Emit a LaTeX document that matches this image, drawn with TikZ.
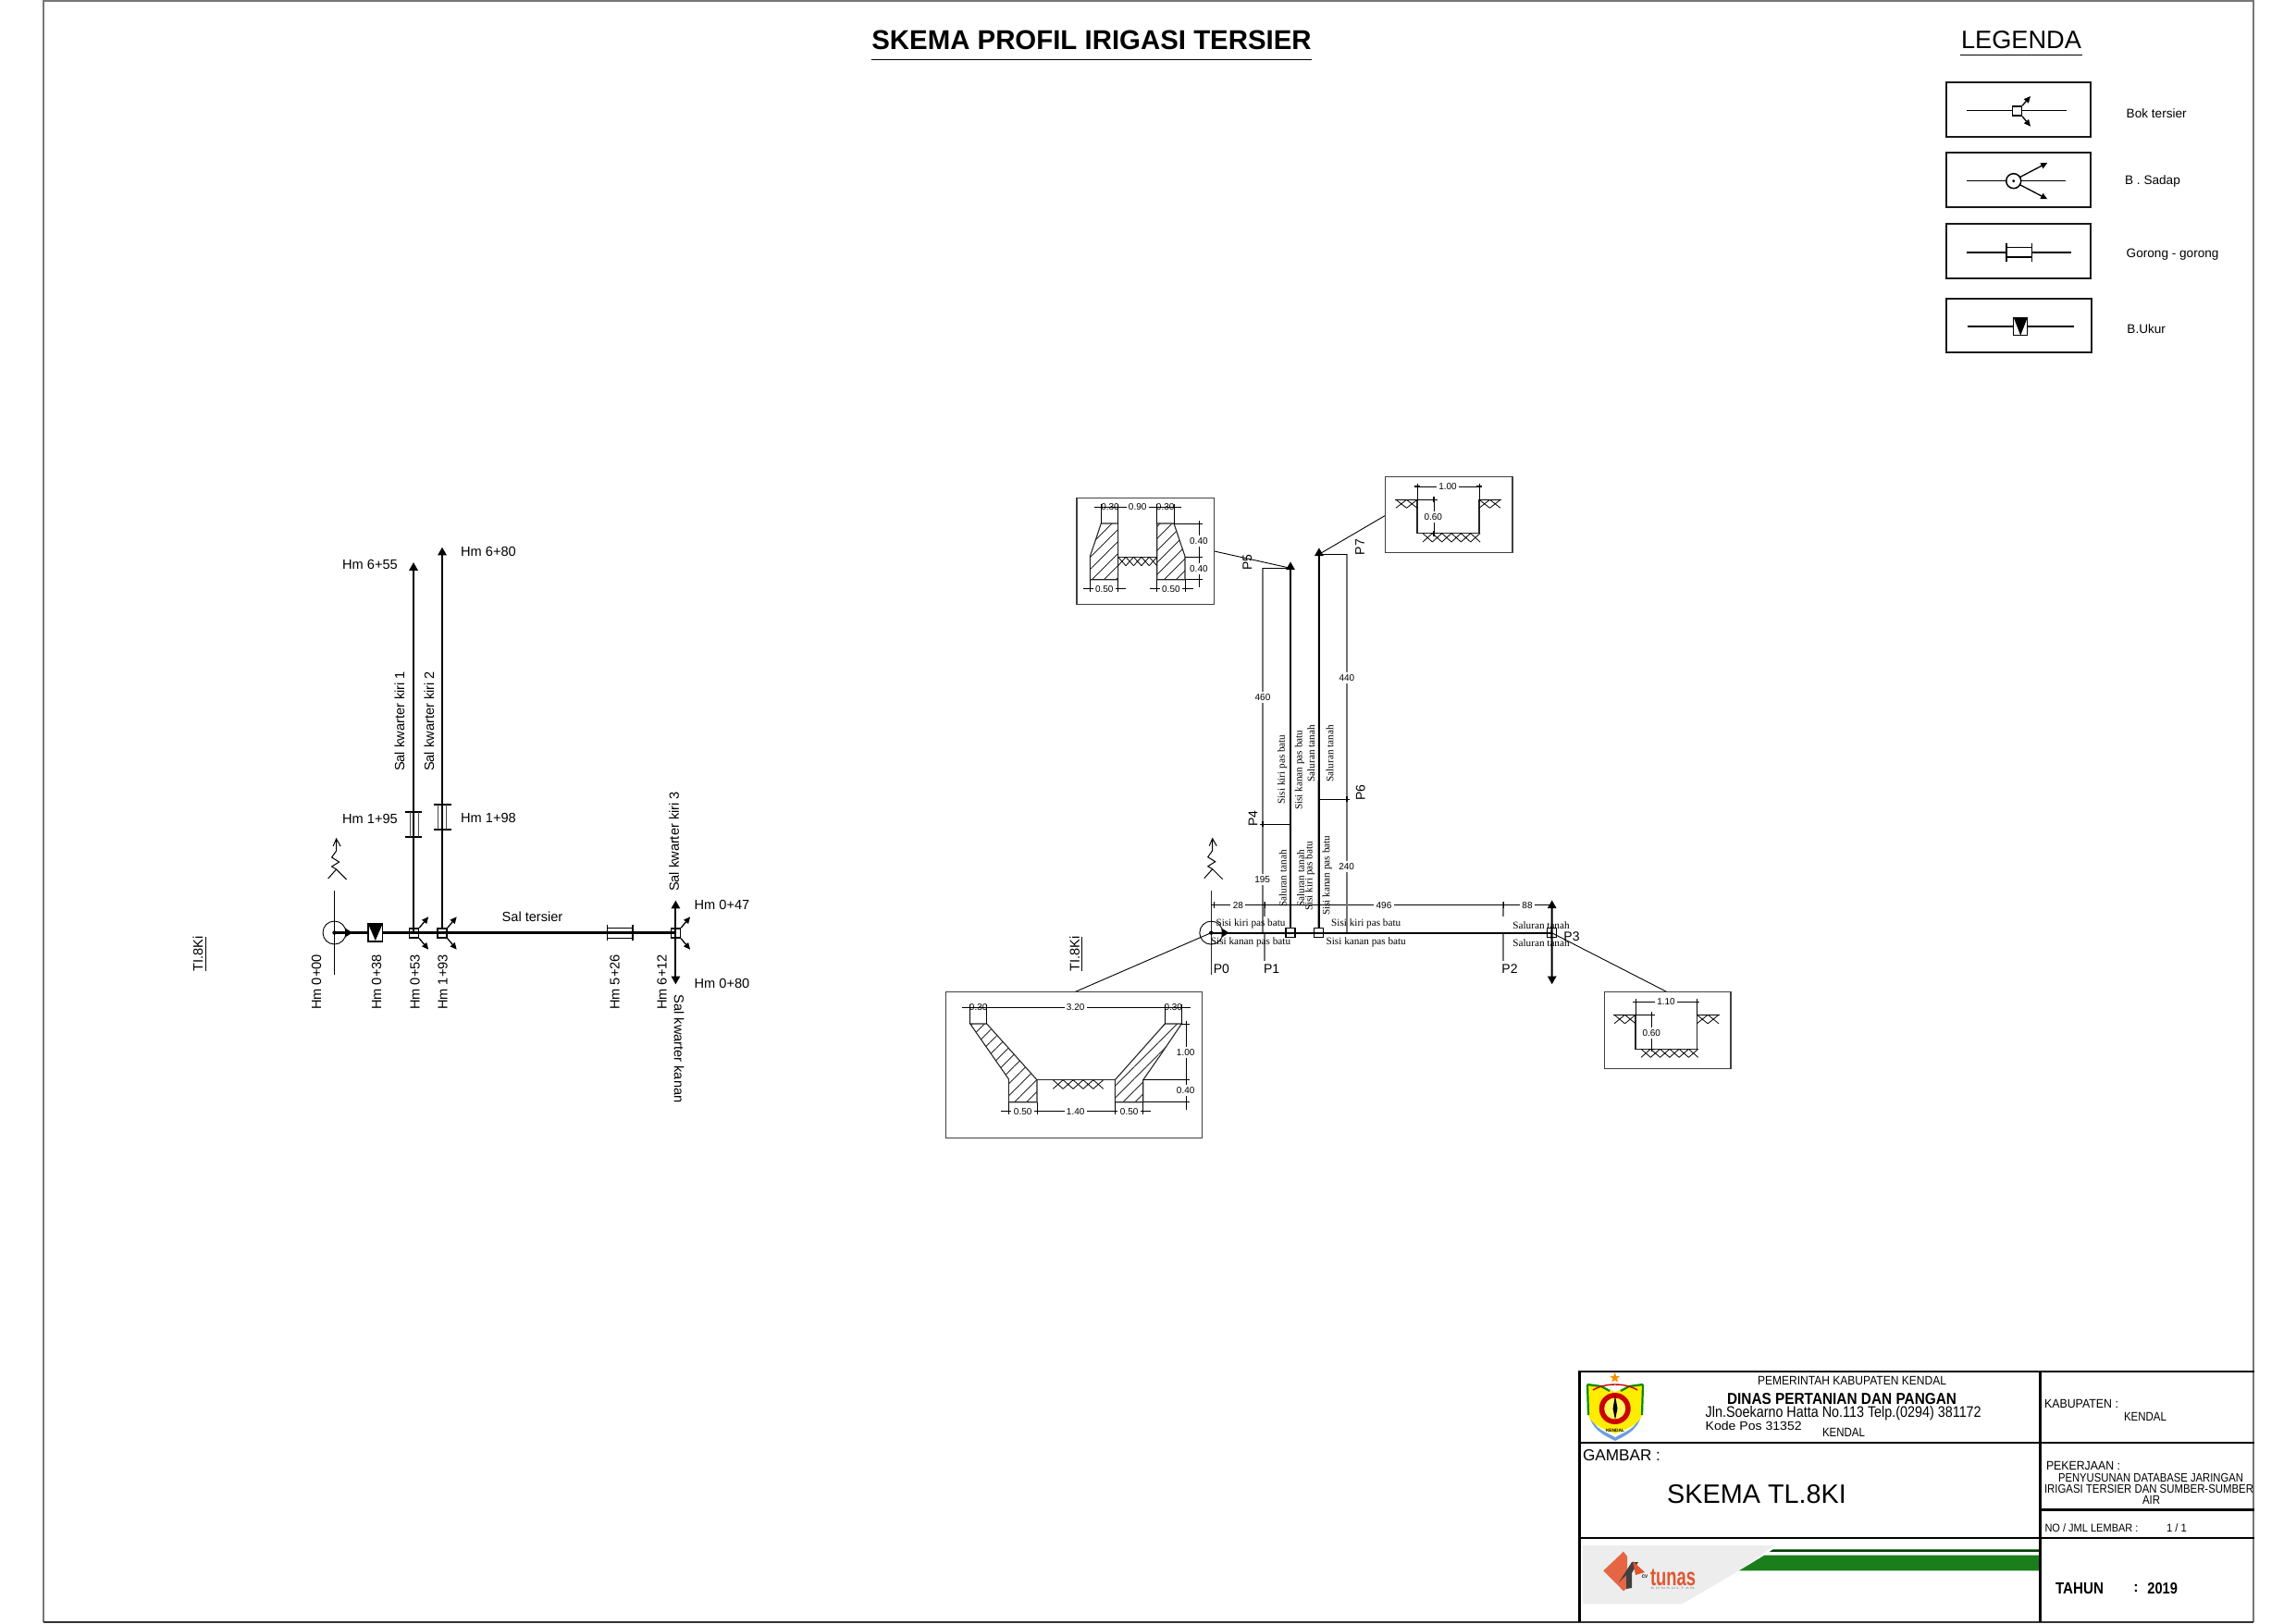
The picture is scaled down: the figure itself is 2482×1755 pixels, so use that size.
\documentclass[tikz,border=0pt]{standalone}
\usepackage{graphicx}
\usepackage{fontspec}
\setmainfont{Liberation Sans}
\newfontfamily\serf{Liberation Serif}
\usetikzlibrary{arrows.meta,patterns.meta}
\definecolor{frm}{HTML}{777777}
\definecolor{grn}{HTML}{1A7F1A}
\definecolor{tun}{HTML}{E2552F}
\newcommand\fs[1]{\fontsize{#1}{#1}\selectfont}
\newcommand\fitb[3]{\resizebox{#1pt}{#2pt}{#3}}
\newcommand\zig[5]{% x1 x2 y d n
  \pgfmathsetmacro\zw{(#2-#1)/#5}
  \foreach \zi in {1,...,#5}{
    \pgfmathsetmacro\za{#1+(\zi-1)*\zw}
    \pgfmathsetmacro\zb{#1+\zi*\zw}
    \draw[thin1] (\za,#3)--(\zb,#3+#4) (\zb,#3)--(\za,#3+#4);
  }}
\newcommand\north[3]{% name x y
  \coordinate (#1) at (#2,#3);
  \draw[line width=.5pt,shift={(#1)}] (-3.5,8)--(0,0)--(4.5,8) (0,0)--(0,13)--(-5,20)--(3,25)--(-5,30)--(0,33)--(-9,43) (0,33)--(11,44);
}
\newcommand\bok[3]{% name x y
  \node[sq] (#1) at (#2,#3) {};
  \draw[sarr] (#1.north east)--++(10,-12);
  \draw[sarr] (#1.south east)--++(10,12);
}
\newcommand\tkh[2]{\draw[dimln] (#1,#2-3.5)--(#1,#2+3.5); \draw[line width=.7pt] (#1-3,#2)--(#1+3,#2);}
\newcommand\tkv[2]{\draw[dimln] (#1-3.5,#2)--(#1+3.5,#2); \draw[line width=.7pt] (#1,#2-3)--(#1,#2+3);}
\tikzset{
  x=0.5pt,y=-0.5pt,
  thin1/.style={line width=.4pt},
  dimln/.style={line width=.45pt},
  mainln/.style={line width=1.05pt,black},
  gln/.style={line width=.8pt,black!55},
  secbox/.style={line width=.7pt,black!75},
  legbox/.style={line width=.85pt,black!90},
  sq/.style={draw,line width=.7pt,minimum size=5pt,inner sep=0pt},
  sarr/.style={line width=.65pt,-{Triangle[length=3.6pt,width=3.2pt]}},
  barr/.style={mainln,-{Triangle[length=4.4pt,width=4.6pt]}},
  lab/.style={font=\fs{7.3},inner sep=0pt},
  leg/.style={font=\fs{6.8},inner sep=0pt,anchor=west},
  pl/.style={font=\fs{7},inner sep=0pt},
  dt/.style={font=\fs{5},inner sep=0pt},
  dtf/.style={font=\fs{5},inner sep=1.2pt,fill=white},
  st/.style={font=\serf\fs{5.6},inner sep=0pt},
  tb/.style={inner sep=0pt},
  hatch/.style={pattern={Lines[angle=45,distance=4.6pt,line width=.35pt]}},
  wall/.style={line width=.55pt,black!85},
  legln/.style={line width=.75pt,black},
}
\begin{document}
\begin{tikzpicture}
\useasboundingbox (0,0) rectangle (2482,1755);
% page frame
\coordinate (fa) at (47,1); \coordinate (fb) at (2436,1); \coordinate (fc) at (2436,1754); \coordinate (fd) at (47,1754);
\draw[frm,line width=.9pt] (fd)--(fa)--(fb)--(fc);
\draw[black!80,line width=.9pt] (fd)--(fc);
% title
\node[font=\bfseries\fs{14.7},inner sep=0pt] (title) at (1180,43) {SKEMA PROFIL IRIGASI TERSIER};
\coordinate (tu1) at (942,64.5); \coordinate (tu2) at (1418,64.5);
\draw[line width=.5pt] (tu1)--(tu2);
\node[font=\fs{13.6},inner sep=0pt] (legt) at (2185,43) {LEGENDA};
\coordinate (lu1) at (2119,59.5); \coordinate (lu2) at (2251,59.5);
\draw[line width=.5pt] (lu1)--(lu2);
% legend boxes
\draw[legbox] (2103.7,89) rectangle (2260.3,148);
\draw[legbox] (2103.7,164.7) rectangle (2260.3,224);
\draw[legbox] (2103.7,242) rectangle (2260.3,301.3);
\draw[legbox] (2104,322.7) rectangle (2261,381.3);
% symbol 1
\coordinate (s1a) at (2126,119.7); \coordinate (s1b) at (2234.3,119.7);
\draw[legln] (s1a)--(s1b);
\node[draw,fill=white,line width=.75pt,minimum size=5pt,inner sep=0pt] (s1) at (2180.3,120) {};
\draw[sarr] (s1.north east)--(2195,104);
\draw[sarr] (s1.south east)--(2195,136.7);
% symbol 2
\coordinate (s2a) at (2126,195.7); \coordinate (s2b) at (2232.7,195.7);
\draw[legln] (s2a)--(s2b);
\node[draw,circle,fill=white,line width=.75pt,minimum size=8pt,inner sep=0pt] (s2) at (2176.7,195.7) {};
\fill (2176.7,195.7) circle[radius=1.6];
\draw[sarr] (2184,191.3)--(2213.3,176);
\draw[sarr] (2184,200)--(2213.3,215.3);
% symbol 3
\coordinate (s3a) at (2126,273); \coordinate (s3b) at (2169,273); \coordinate (s3c) at (2196.3,273); \coordinate (s3d) at (2239.3,273);
\draw[legln] (s3a)--(s3b) (s3c)--(s3d);
\draw[legln] (2169,263.3)--(2169,282.7) (2196.3,263.3)--(2196.3,282.7) (2169,267.7)--(2196.3,267.7) (2169,278)--(2196.3,278);
% symbol 4
\coordinate (s4a) at (2126.7,353); \coordinate (s4b) at (2241.7,353);
\draw[legln] (s4a)--(s4b);
\draw[legln,fill=white] (2176.7,343.3) rectangle (2191.7,362.7);
\fill (2176.7,343.3)--(2191.7,343.3)--(2184.2,362.7)--cycle;
\node[leg] (l1) at (2298.3,123) {Bok tersier};
\node[leg] (l2) at (2296.7,196) {B . Sadap};
\node[leg] (l3) at (2298.3,275) {Gorong - gorong};
\node[leg] (l4) at (2299,355.5) {B.Ukur};

% ================ left schematic
\coordinate (m0) at (361.5,1008.5); \coordinate (m1) at (730.4,1008.5);
\draw[mainln] (m0)--(m1);
\coordinate (p0a) at (361.5,963); \coordinate (p0b) at (361.5,1053.5);
\draw[line width=.45pt] (p0a)--(p0b);
\node[draw,circle,line width=.45pt,minimum size=12.5pt,inner sep=0pt] (c0) at (m0) {};
\fill (m0) circle[radius=2.2];
\fill (373,1003.5)--(381,1008.5)--(373,1013.5)--cycle;
\draw[line width=.7pt,fill=white] (398,999) rectangle (413.6,1018);
\fill (398,999)--(413.6,999)--(405.8,1017)--cycle;
\draw[mainln] (447,1008.5)--(447,1004);
\bok{b1}{447.5}{1009}
\bok{b2}{478}{1009}
\bok{b3}{730.4}{1009}
\draw[barr] (b1.north -| 447,0)--(447,608);
\draw[barr] (b2.north)--(478,591.6);
\draw[barr] (b3.center)--(730.4,973.5);
\draw[barr] (b3.center)--(730.4,1064.4);
% culverts
\draw[line width=.55pt] (438,878)--(456,878) (438,905)--(456,905);
\draw[line width=.4pt,black!70] (443,878)--(443,905) (452,878)--(452,905);
\draw[line width=.55pt] (469,870)--(487.5,870) (469,897)--(487.5,897);
\draw[line width=.4pt,black!70] (473,870)--(473,897) (482.5,870)--(482.5,897);
\draw[line width=.6pt] (656.4,999.6)--(656.4,1017) (684,999.6)--(684,1017);
\draw[line width=.45pt] (656.4,1003)--(684,1003) (656.4,1014)--(684,1014);
\north{nl}{363.6}{907}
\node[lab] (hm655) at (400,610.5) {Hm 6+55};
\node[lab] (hm680) at (528,596) {Hm 6+80};
\node[lab] (hm195) at (400,885.5) {Hm 1+95};
\node[lab] (hm198) at (528,884) {Hm 1+98};
\node[lab] (hm047) at (780.5,978.7) {Hm 0+47};
\node[lab] (hm080) at (780.5,1063) {Hm 0+80};
\node[lab] (salt) at (575.5,991) {Sal tersier};
\node[lab,rotate=90] (k1) at (432,780) {Sal kwarter kiri 1};
\node[lab,rotate=90] (k2) at (464,780) {Sal kwarter kiri 2};
\node[lab,rotate=90] (k3) at (728.6,910) {Sal kwarter kiri 3};
\node[lab,rotate=-90] (kk) at (734,1134) {Sal kwarter kanan};
\node[lab,rotate=90] (h1) at (342,1062) {Hm 0+00};
\node[lab,rotate=90] (h2) at (407,1062) {Hm 0+38};
\node[lab,rotate=90] (h3) at (448.6,1062) {Hm 0+53};
\node[lab,rotate=90] (h4) at (478.6,1062) {Hm 1+93};
\node[lab,rotate=90] (h5) at (664.6,1062) {Hm 5+26};
\node[lab,rotate=90] (h6) at (715.7,1062) {Hm 6+12};
\node[lab,rotate=90] (tl1) at (214,1031.5) {TI.8Ki};
\coordinate (tl1a) at (222,1013); \coordinate (tl1b) at (222,1050);
\draw[line width=.45pt] (tl1a)--(tl1b);
\node[lab,rotate=90] (tl2) at (1161.7,1031.5) {TI.8Ki};
\coordinate (tl2a) at (1169.7,1013); \coordinate (tl2b) at (1169.7,1050);
\draw[line width=.45pt] (tl2a)--(tl2b);

% ================ right schematic
\north{nr}{1310.7}{906.7}
\coordinate (n0) at (1309.3,1008.6); \coordinate (n1) at (1677.7,1008.6);
\coordinate (u1) at (1395,607.3); \coordinate (u2) at (1425.9,592.3);
% dimension / station lines
\draw[line width=.5pt,black!85] (1309.3,963)--(1309.3,1054);
\draw[gln] (1366.7,975)--(1366.7,990.7) (1366.7,1008.7)--(1366.7,1039);
\draw[gln] (1625,975)--(1625,990.7) (1625,1008.7)--(1625,1039);
\draw[dimln] (1309.3,978.7)--(1677.7,978.7);
\draw[gln,line width=.6pt] (1365,614.3)--(1365,1008.6);
\draw[gln,line width=.6pt] (1455.9,599.3)--(1455.9,1008.6);
\draw[dimln] (1365,614.3)--(u1 |- 0,614.3);
\draw[dimln] (1365,891)--(1395,891);
\draw[dimln] (1425.9,599.3)--(1455.9,599.3);
\draw[dimln] (1425.9,864.3)--(1455.9,864.3);
\tkv{1365}{891}
\tkv{1455.9}{864.3}
\tkh{1367}{978.7}
\tkh{1625}{978.7}
\tkh{1312}{978.7}
\node[dtf] (d28) at (1338.3,978.7) {28};
\node[dtf] (d496) at (1496,978.7) {496};
\node[dtf] (d88) at (1651,978.7) {88};
\node[dtf] (d195) at (1364.7,950.7) {195};
\node[dtf] (d240) at (1455.7,936.7) {240};
\node[dtf] (d460) at (1365,754.3) {460};
\node[dtf] (d440) at (1455.9,733.3) {440};
% channels
\draw[mainln] (n0)--(n1);
\node[draw,circle,line width=.45pt,minimum size=12.5pt,inner sep=0pt] (c1) at (n0) {};
\fill (n0) circle[radius=2.2];
\fill (1320.7,1003.6)--(1328.5,1008.6)--(1320.7,1013.6)--cycle;
\node[sq] (r1) at (1395,1008.7) {};
\node[sq] (r2) at (1425.7,1008.7) {};
\node[sq] (r3) at (1677.5,1008.7) {};
\draw[barr] (r1.north)--(u1);
\draw[barr] (r2.north)--(u2);
\draw[barr] (r3.center)--(1677.7,973.3);
\draw[barr] (r3.center)--(1677.7,1064.3);
% P labels
\node[pl] (P0) at (1320.3,1047.7) {P0};
\node[pl] (P1) at (1374.7,1047.7) {P1};
\node[pl] (P2) at (1632,1047.7) {P2};
\node[pl] (P3) at (1699,1012.7) {P3};
\node[pl,rotate=90] (P4) at (1354.5,885) {P4};
\node[pl,rotate=90] (P5) at (1348.3,608.3) {P5};
\node[pl,rotate=90] (P6) at (1470.7,857.3) {P6};
\node[pl,rotate=90] (P7) at (1470,591.7) {P7};
% serif labels
\node[st] (t1) at (1352,998.7) {Sisi kiri pas batu};
\node[st] (t2) at (1352,1018.3) {Sisi kanan pas batu};
\node[st] (t3) at (1476.7,998.7) {Sisi kiri pas batu};
\node[st] (t4) at (1476.7,1018.3) {Sisi kanan pas batu};
\node[st] (t5) at (1666,1000.3) {Saluran tanah};
\node[st] (t6) at (1666,1019.7) {Saluran tanah};
\node[st,rotate=90] (t7) at (1386.7,950) {Saluran tanah};
\node[st,rotate=90] (t8) at (1406,950) {Saluran tanah};
\node[st,rotate=90] (t9) at (1416,947.3) {Sisi kiri pas batu};
\node[st,rotate=90] (t10) at (1434.7,946.7) {Sisi kanan pas batu};
\node[st,rotate=90] (t11) at (1386.2,832) {Sisi kiri pas batu};
\node[st,rotate=90] (t12) at (1405,832.7) {Sisi kanan pas batu};
\node[st,rotate=90] (t13) at (1417.2,814.7) {Saluran tanah};
\node[st,rotate=90] (t14) at (1437.6,814.7) {Saluran tanah};

% ---------- section boxes and leaders
\coordinate (q0) at (1161.7,1072.7);
\coordinate (q3) at (1802.3,1072.7);
\coordinate (q5) at (1312.6,596);
\coordinate (q7) at (1497.6,557.3);
\coordinate (e5) at (1395,614.3);
\coordinate (e7) at (1425.9,599.3);
\draw[line width=.45pt] (q0)--(n0);
\draw[line width=.45pt] (q3)--(r3.center);
\draw[line width=.45pt] (q5)--(e5);
\draw[line width=.45pt] (q7)--(e7);

% section P0
\draw[secbox] (1022.7,1072.7) rectangle (1299.3,1230.3);
\draw[wall,hatch] (1048.7,1107)--(1066.7,1107)--(1121,1167.7)--(1121,1191.7)--(1090.3,1191.7)--(1090.3,1166.7)--cycle;
\draw[wall,hatch] (1259.3,1107)--(1277.3,1107)--(1255,1140)--(1235.7,1167.7)--(1235.7,1191.7)--(1205.3,1191.7)--(1205.3,1167.7)--cycle;
\draw[wall] (1121,1167.7)--(1205.3,1167.7);
\zig{1138.3}{1192.7}{1167.7}{9.6}{5}
\draw[dimln] (1040,1089.3)--(1286.7,1089.3);
\draw[dimln] (1048.7,1089.3)--(1048.7,1107) (1066.7,1089.3)--(1066.7,1107) (1259.3,1089.3)--(1259.3,1107) (1277.3,1089.3)--(1277.3,1107);
\draw[dimln] (1282.3,1107)--(1282.3,1200);
\draw[dimln] (1277.3,1107)--(1285,1107) (1235.7,1167.7)--(1285,1167.7) (1235.7,1191.7)--(1285,1191.7);
\draw[dimln] (1081.7,1201.7)--(1244.3,1201.7);
\draw[dimln] (1090.3,1191.7)--(1090.3,1205) (1121,1191.7)--(1121,1205) (1205.3,1191.7)--(1205.3,1205) (1235.7,1191.7)--(1235.7,1205);
\tkh{1048.7}{1089.3}\tkh{1066.7}{1089.3}\tkh{1259.3}{1089.3}\tkh{1277.3}{1089.3}
\tkh{1090.3}{1201.7}\tkh{1121}{1201.7}\tkh{1205.3}{1201.7}\tkh{1235.7}{1201.7}
\tkv{1282.3}{1107}\tkv{1282.3}{1167.7}\tkv{1282.3}{1191.7}
\node[dt] (a1) at (1057.7,1089.3) {0.30};
\node[dtf] (a2) at (1162.7,1089.3) {3.20};
\node[dt] (a3) at (1268.3,1089.3) {0.30};
\node[dtf] (a4) at (1281.7,1137.7) {1.00};
\node[dtf] (a5) at (1281.7,1179.3) {0.40};
\node[dtf,inner xsep=1.5pt] (a6) at (1105.7,1201.7) {0.50};
\node[dtf] (a7) at (1162.7,1201.7) {1.40};
\node[dtf,inner xsep=1.5pt] (a8) at (1220.7,1201.7) {0.50};

% section P5
\draw[secbox] (1163.8,538.3) rectangle (1312.4,653.3);
\draw[wall,hatch] (1190.3,566)--(1208.6,566)--(1208.6,626.7)--(1178.3,626.7)--(1178.3,601.7)--cycle;
\draw[wall,hatch] (1250.7,566)--(1269,566)--(1281,601.7)--(1281,626.7)--(1250.7,626.7)--cycle;
\draw[wall] (1208.6,602.3)--(1250.7,602.3);
\zig{1208.6}{1250.7}{602.3}{9.4}{5}
\draw[dimln] (1182.8,548.3)--(1276.9,548.3);
\draw[dimln] (1190.3,548.3)--(1190.3,566) (1208.6,548.3)--(1208.6,566) (1250.7,548.3)--(1250.7,566) (1269,548.3)--(1269,566);
\draw[dimln] (1296.6,566)--(1296.6,635);
\draw[dimln] (1269,566)--(1299,566) (1281,602.3)--(1299,602.3) (1281,626.7)--(1299,626.7);
\draw[dimln] (1170.7,636.7)--(1217.2,636.7) (1243,636.7)--(1289.7,636.7);
\draw[dimln] (1178.3,626.7)--(1178.3,640) (1208.6,626.7)--(1208.6,640) (1250.7,626.7)--(1250.7,640) (1281,626.7)--(1281,640);
\tkh{1190.3}{548.3}\tkh{1208.6}{548.3}\tkh{1250.7}{548.3}\tkh{1269}{548.3}
\tkh{1178.3}{636.7}\tkh{1208.6}{636.7}\tkh{1250.7}{636.7}\tkh{1281}{636.7}
\tkv{1296.6}{566}\tkv{1296.6}{602.3}\tkv{1296.6}{626.7}
\node[dt] (b1t) at (1200,548.3) {0.30};
\node[dtf] (b2t) at (1229.7,548.3) {0.90};
\node[dt] (b3t) at (1259.7,548.3) {0.30};
\node[dtf] (b4t) at (1295.9,584.7) {0.40};
\node[dtf] (b5t) at (1295.9,614.7) {0.40};
\node[dtf] (b6t) at (1193.8,636.7) {0.50};
\node[dtf] (b7t) at (1265.9,636.7) {0.50};

% section P7
\draw[secbox] (1497.6,515.3) rectangle (1634.8,597.3);
\draw[wall] (1532,540.3)--(1532,576.7)--(1599,576.7)--(1599,540.3);
\draw[thin1] (1508,540.3)--(1550,540.3) (1599,540.3)--(1623,540.3);
\zig{1509}{1532}{540.3}{9}{2}
\zig{1599}{1622}{540.3}{9}{2}
\zig{1538}{1600}{576.7}{9.3}{6}
\draw[dimln] (1532,526)--(1599,526);
\draw[dimln] (1532,523)--(1532,540.3) (1599,523)--(1599,540.3);
\draw[dimln] (1550,540.3)--(1550,576.7);
\tkh{1532}{526}\tkh{1599}{526}\tkv{1550}{540.3}\tkv{1550}{576.7}
\node[dtf] (c1t) at (1565,526) {1.00};
\node[dtf] (c2t) at (1549.3,558.7) {0.60};

% section P3
\draw[secbox] (1734.3,1072.7) rectangle (1871,1155.3);
\draw[wall] (1768,1097.3)--(1768,1134.3)--(1834.3,1134.3)--(1834.3,1097.3);
\draw[thin1] (1744,1097.3)--(1788,1097.3) (1834.3,1097.3)--(1859,1097.3);
\zig{1745}{1768}{1097.3}{9.5}{2}
\zig{1834.3}{1858}{1097.3}{9.5}{2}
\zig{1774}{1835.7}{1134.3}{9}{6}
\draw[dimln] (1768,1083.3)--(1834.3,1083.3);
\draw[dimln] (1768,1080.5)--(1768,1097.3) (1834.3,1080.5)--(1834.3,1097.3);
\draw[dimln] (1785.3,1097.3)--(1785.3,1134.3);
\tkh{1768}{1083.3}\tkh{1834.3}{1083.3}\tkv{1785.3}{1097.3}\tkv{1785.3}{1134.3}
\node[dtf] (d1t) at (1801,1083.3) {1.10};
\node[dtf] (d2t) at (1785.3,1116.7) {0.60};

% ================ title block
\tikzset{tbl/.style={line width=1.3pt,black}}
\draw[tbl] (1707.5,1754)--(1707.5,1483)--(2436.5,1483);
\draw[tbl] (2205.5,1483)--(2205.5,1754);
\draw[tbl] (1707.5,1560)--(2436.5,1560);
\draw[tbl] (1707.5,1663)--(2436.5,1663);
\draw[tbl] (2205.5,1632.5)--(2436.5,1632.5);
\begin{scope}[shift={(0,1.5)}]
\node[tb] (tb1) at (2002,1491.7) {\fitb{102}{4.6}{PEMERINTAH KABUPATEN KENDAL}};
\node[tb] (tb2) at (1991,1510.7) {\fitb{124}{6}{\bfseries DINAS PERTANIAN DAN PANGAN}};
\node[tb] (tb3) at (1992.7,1526.7) {\fitb{149}{6}{Jln.Soekarno Hatta No.113 Telp.(0294) 381172}};
\node[tb] (tb4) at (1895.7,1540) {\fitb{52}{4.8}{Kode Pos 31352}};
\node[tb] (tb5) at (1993,1547.3) {\fitb{23}{4.6}{KENDAL}};
\node[tb] (tb6) at (2250,1516.7) {\fitb{40}{4.6}{KABUPATEN :}};
\node[tb] (tb7) at (2319,1530) {\fitb{23}{4.6}{KENDAL}};
\node[tb] (tb8) at (1753,1571.7) {\fitb{42}{6}{GAMBAR :}};
\node[font=\fs{14.4},inner sep=0pt] (tb9) at (1899,1614) {SKEMA TL.8KI};
\node[tb] (tb10) at (2252,1583.3) {\fitb{40}{4.6}{PEKERJAAN :}};
\node[tb] (tb11) at (2325,1596) {\fitb{100}{4.6}{PENYUSUNAN DATABASE JARINGAN}};
\node[tb] (tb12) at (2323,1608.3) {\fitb{113}{4.6}{IRIGASI TERSIER DAN SUMBER-SUMBER}};
\node[tb] (tb13) at (2325.5,1620.7) {\fitb{9.5}{4.6}{AIR}};
\node[tb] (tb14) at (2261,1651) {\fitb{50.5}{4.4}{NO / JML LEMBAR :}};
\node[tb] (tb15) at (2353,1650.3) {\fitb{11}{4.4}{1 / 1}};
\node[tb] (tb16) at (2248,1715.7) {\fitb{26}{6}{\bfseries TAHUN}};
\node[font=\bfseries\fs{8},inner sep=0pt] (tb17) at (2309,1715.7) {:};
\node[tb] (tb18) at (2337.7,1715.7) {\fitb{16.3}{6}{\bfseries 2019}};
\end{scope}
% emblem
\fill[cyan!55!blue!60] (1717,1518) .. controls (1715,1545) and (1735,1552) .. (1746,1558) .. controls (1757,1552) and (1777,1545) .. (1775,1518) -- cycle;
\fill[white] (1720,1530) .. controls (1722,1545) and (1738,1549) .. (1746,1554) .. controls (1754,1549) and (1770,1545) .. (1772,1530) -- cycle;
\fill[yellow!95!orange] (1716,1497) -- (1731,1499) -- (1746,1505) -- (1761,1499) -- (1776,1497) -- (1775,1530) .. controls (1772,1541) and (1755,1547) .. (1746,1550) .. controls (1737,1547) and (1720,1541) .. (1717,1530) -- cycle;
\draw[green!55!black,line width=1.1pt] (1716,1497) -- (1731,1499) -- (1740,1504) (1776,1497) -- (1761,1499) -- (1752,1504) (1716,1497)--(1717,1530) (1776,1497)--(1775,1530);
\draw[red!80!black,line width=.7pt] (1722,1503) .. controls (1735,1495) and (1757,1495) .. (1770,1503);
\fill[red!80!black] (1745.7,1523) circle[radius=17];
\fill[yellow!60!white] (1745.7,1523) circle[radius=11.5];
\fill[black] (1746,1509)--(1748.5,1523)--(1746,1535)--(1743.5,1523)--cycle;
\fill[orange!90!yellow] (1745.7,1484)--(1747.2,1488)--(1751,1488.2)--(1748,1490.6)--(1749,1494.5)--(1745.7,1492.3)--(1742.4,1494.5)--(1743.4,1490.6)--(1740.4,1488.2)--(1744.2,1488)--cycle;
\node[font=\bfseries\fs{2.4},inner sep=0pt] (emt) at (1746,1547) {KENDAL};
% tunas band
\begin{scope}[shift={(0,1)}]
\fill[black!7] (1711,1670)--(1918,1670)--(1880,1697.3)--(1818.3,1733.3)--(1711,1733.3)--cycle;
\fill[grn] (1907.3,1680.7)--(2204,1680.7)--(2204,1697.3)--(1880,1697.3)--cycle;
\fill[green!25!black] (1916.7,1674.3)--(2204,1674.3)--(2204,1676.8)--(1913,1676.8)--cycle;
\fill[tun!90] (1755,1676.7)--(1733.3,1697.3)--(1755,1719.3)--(1759,1716)--(1759,1682)--cycle;
\fill[black!75] (1750,1710)--(1764,1688)--(1771,1688)--(1764,1700)--(1764,1716)--(1758,1717)--(1758,1702)--cycle;
\fill[tun] (1765,1687)--(1778,1699)--(1768,1702)--cycle;
\node[tb] (cv) at (1778,1703.5) {\fitb{3.2}{1.8}{\bfseries CV}};
\node[tb] (tn) at (1808.5,1704.5) {\fitb{24.5}{8.8}{\color{tun}\bfseries tunas}};
\node[tb] (kn) at (1808,1716) {\fitb{23.5}{1.1}{\color{black!50}K O N S U L T A N}};
\end{scope}
\end{tikzpicture}
\end{document}
